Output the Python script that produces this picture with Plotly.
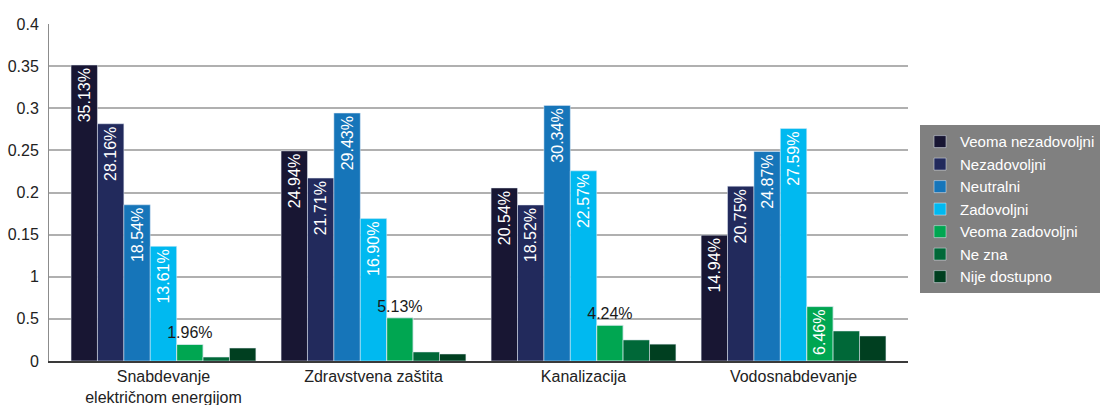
import plotly.graph_objects as go

categories = ["Snabdevanje<br>električnom energijom", "Zdravstvena zaštita", "Kanalizacija", "Vodosnabdevanje"]

veoma_nezadovoljni = [0.3513, 0.2494, 0.2054, 0.1494]
nezadovoljni = [0.2816, 0.2171, 0.1852, 0.2075]
neutralni = [0.1854, 0.2943, 0.3034, 0.2487]
zadovoljni = [0.1361, 0.1690, 0.2257, 0.2759]
veoma_zadovoljni = [0.0196, 0.0513, 0.0424, 0.0646]
ne_zna = [0.0047, 0.0107, 0.0250, 0.0356]
nije_dostupno = [0.0154, 0.0083, 0.0200, 0.0297]

# which "Veoma zadovoljni" labels are drawn inside the bar (rotated)
vz_label_inside = [False, False, False, True]

y_tickvals = [0, 0.05, 0.1, 0.15, 0.2, 0.25, 0.3, 0.35, 0.4]
y_ticktext = ["0", "0.5", "1", "0.15", "0.2", "0.25", "0.3", "0.35", "0.4"]

FONT = "Liberation Sans, Arial, sans-serif"

def pct(v):
    return f"{v*100:.2f}%"

fig = go.Figure()

labeled = [
    ("Veoma nezadovoljni", veoma_nezadovoljni, "#181633"),
    ("Nezadovoljni", nezadovoljni, "#222a5c"),
    ("Neutralni", neutralni, "#1675b9"),
    ("Zadovoljni", zadovoljni, "#00b9f0"),
]
for name, vals, col in labeled:
    fig.add_trace(go.Bar(
        name=name, x=categories, y=vals, offsetgroup=name,
        marker=dict(color=col),
        text=[pct(v) for v in vals], textposition="inside", textangle=-90,
        insidetextanchor="end", constraintext="none",
        insidetextfont=dict(color="white", size=16, family=FONT),
    ))

# Veoma zadovoljni: outside horizontal labels
fig.add_trace(go.Bar(
    name="Veoma zadovoljni", x=categories, y=veoma_zadovoljni, offsetgroup="vz",
    marker=dict(color="#00a651"),
    text=["" if ins else pct(v) for v, ins in zip(veoma_zadovoljni, vz_label_inside)],
    textposition="outside", textangle=0, constraintext="none",
    outsidetextfont=dict(color="#1a1a1a", size=16, family=FONT),
    cliponaxis=False,
))
# overlay (transparent) for rotated inside labels
fig.add_trace(go.Bar(
    name="Veoma zadovoljni", x=categories, y=veoma_zadovoljni, offsetgroup="vz",
    marker=dict(color="rgba(0,0,0,0)"), showlegend=False, hoverinfo="skip",
    text=[pct(v) if ins else "" for v, ins in zip(veoma_zadovoljni, vz_label_inside)],
    textposition="inside", textangle=-90, insidetextanchor="end", constraintext="none",
    insidetextfont=dict(color="white", size=16, family=FONT),
))

for name, vals, col in [("Ne zna", ne_zna, "#006838"), ("Nije dostupno", nije_dostupno, "#003f20")]:
    fig.add_trace(go.Bar(name=name, x=categories, y=vals, offsetgroup=name,
                         marker=dict(color=col)))

fig.update_layout(
    width=1112, height=405,
    barmode="group", bargap=0.12, bargroupgap=0,
    plot_bgcolor="white", paper_bgcolor="white",
    margin=dict(l=49, r=200, t=24, b=44),
    font=dict(family=FONT, size=16, color="#222222"),
    showlegend=True,
    legend=dict(
        x=1.014, xanchor="left", y=0.45, yanchor="middle",
        bgcolor="#808080", borderwidth=0,
        font=dict(color="white", size=15, family=FONT),
        traceorder="normal", itemclick=False,
    ),
)
fig.update_xaxes(
    range=[-0.545, 3.545], showline=True, linecolor="#3a3a3a", linewidth=1.5,
    showgrid=False, zeroline=False, ticks="", automargin=False,
    tickfont=dict(size=16, color="#222222"),
)
fig.update_yaxes(
    range=[0, 0.4], tickvals=y_tickvals, ticktext=y_ticktext,
    showline=True, linecolor="#8c8c8c", linewidth=1,
    showgrid=True, gridcolor="#b0b0b0", gridwidth=1.5, zeroline=False,
    ticks="", ticklabelstandoff=6, automargin=False,
    tickfont=dict(size=16, color="#222222"),
)

fig.write_html(
    "out.html",
    config={"displayModeBar": False},
    post_script="document.body.style.margin='0';document.body.style.padding='0';",
)
